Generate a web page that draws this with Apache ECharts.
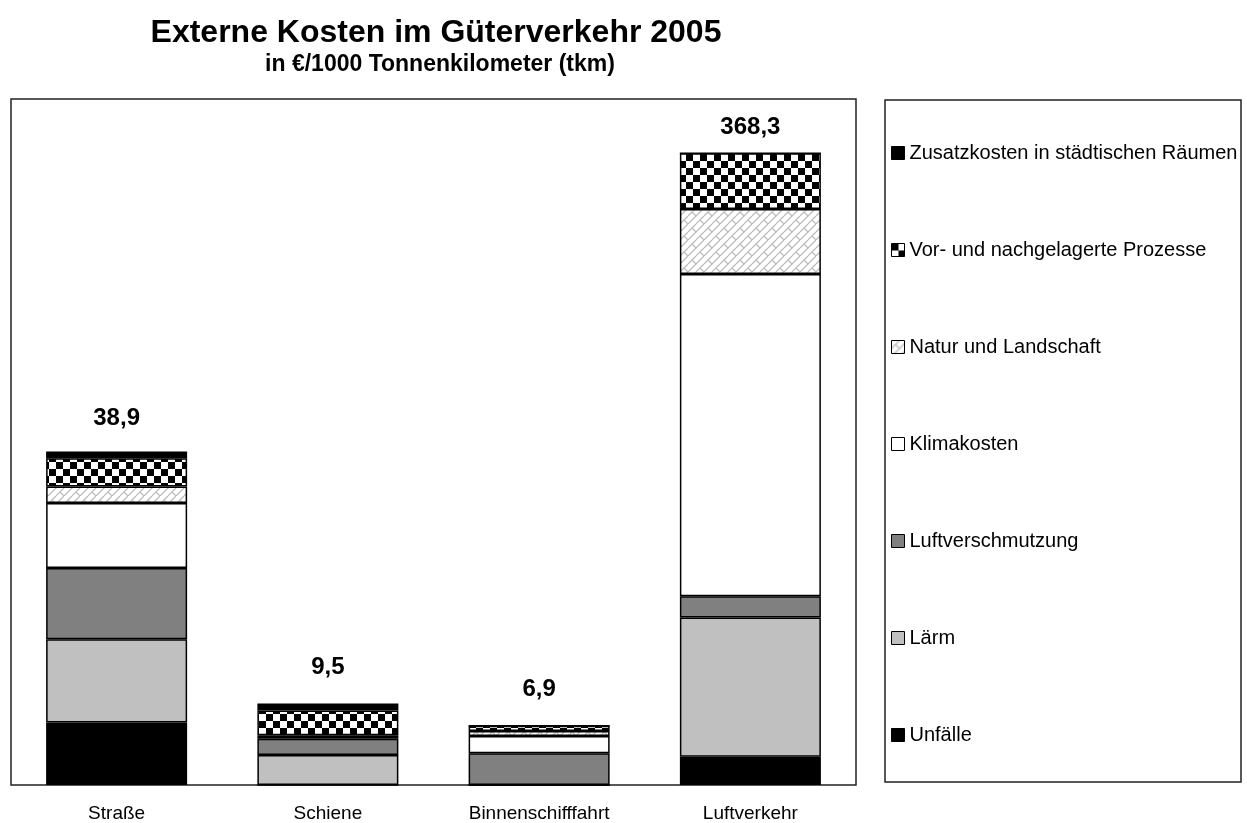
<!DOCTYPE html>
<html>
<head>
<meta charset="utf-8">
<script src="https://cdn.jsdelivr.net/npm/echarts@6/dist/echarts.min.js"></script>
<style>
html,body{margin:0;padding:0;background:#fff;}
#c{width:1247px;height:823px;}
</style>
</head>
<body>
<div id="c"></div>
<script>
// Data (€/1000 tkm)
const categories = ['Straße', 'Schiene', 'Binnenschifffahrt', 'Luftverkehr'];
const totals = [38.9, 9.5, 6.9, 368.3];
const unfaelle      = [7.3, 0.0, 0.0, 16.5];
const laerm         = [9.7, 3.5, 0.0, 81.2];
const luft          = [8.3, 1.9, 3.7, 12.4];
const klima         = [7.6, 0.2, 2.0, 187.9];
const natur         = [1.9, 0.2, 0.6, 37.9];
const vorNach       = [3.3, 2.9, 0.6, 32.4];
const zusatz        = [0.8, 0.8, 0.0, 0.0];
// Luftverkehr bar is drawn at a reduced (1:5) scale in the original
const displayScale = [1, 1, 1, 0.2];

function checker() {
  const c = document.createElement('canvas');
  c.width = 14; c.height = 14;
  const g = c.getContext('2d');
  g.fillStyle = '#fff'; g.fillRect(0, 0, 14, 14);
  g.fillStyle = '#000';
  g.fillRect(0, 0, 7, 7); g.fillRect(7, 7, 7, 7);
  return c;
}
function brick() {
  const c = document.createElement('canvas');
  c.width = 16; c.height = 16;
  const g = c.getContext('2d');
  g.fillStyle = '#fff'; g.fillRect(0, 0, 16, 16);
  g.strokeStyle = '#bdbdbd'; g.lineWidth = 1.3;
  g.beginPath();
  g.moveTo(0, 16); g.lineTo(16, 0);
  g.moveTo(0, 8); g.lineTo(8, 0);
  g.moveTo(8, 16); g.lineTo(16, 8);
  g.moveTo(4, 4); g.lineTo(8, 8);
  g.moveTo(12, 12); g.lineTo(16, 16);
  g.stroke();
  return c;
}

const font = '"Liberation Sans", Arial, sans-serif';
const seriesDefs = [
  { name: 'Unfälle', data: unfaelle, color: '#000000' },
  { name: 'Lärm', data: laerm, color: '#c0c0c0' },
  { name: 'Luftverschmutzung', data: luft, color: '#808080' },
  { name: 'Klimakosten', data: klima, color: '#ffffff' },
  { name: 'Natur und Landschaft', data: natur, color: { image: brick(), repeat: 'repeat' } },
  { name: 'Vor- und nachgelagerte Prozesse', data: vorNach, color: { image: checker(), repeat: 'repeat' } },
  { name: 'Zusatzkosten in städtischen Räumen', data: zusatz, color: '#000000' }
];

const series = seriesDefs.map(s => ({
  name: s.name,
  type: 'bar',
  stack: 'total',
  barWidth: 141,
  data: s.data.map((v, i) => v * displayScale[i]),
  itemStyle: { color: s.color, borderColor: '#000', borderWidth: 1.5 },
  silent: true
}));

const labelDist = [21, 24, 24, 14];
series.push({
  name: 'Gesamt',
  type: 'bar',
  barWidth: 141,
  barGap: '-100%',
  z: 1,
  data: totals.map((t, i) => ({
    value: t * displayScale[i],
    label: { distance: labelDist[i] }
  })),
  itemStyle: { color: 'rgba(0,0,0,0)' },
  label: {
    show: true,
    position: 'top',
    fontFamily: font,
    fontWeight: 'bold',
    fontSize: 24,
    color: '#000',
    formatter: p => totals[p.dataIndex].toFixed(1).replace('.', ',')
  },
  silent: true
});

const chart = echarts.init(document.getElementById('c'), null, { renderer: 'canvas' });
chart.setOption({
  animation: false,
  backgroundColor: '#fff',
  title: [
    { text: 'Externe Kosten im Güterverkehr 2005', left: 431, top: 12, textAlign: 'center',
      textStyle: { fontFamily: font, fontWeight: 'bold', fontSize: 32, color: '#000' } },
    { text: 'in €/1000 Tonnenkilometer (tkm)', left: 435, top: 48, textAlign: 'center',
      textStyle: { fontFamily: font, fontWeight: 'bold', fontSize: 23, color: '#000' } }
  ],
  grid: { left: 11, right: 391, top: 99, bottom: 38, show: true, borderColor: '#222', borderWidth: 1.5, backgroundColor: '#fff' },
  xAxis: {
    type: 'category',
    data: categories,
    axisLine: { show: false },
    axisTick: { show: false },
    axisLabel: { fontFamily: font, fontSize: 19, color: '#000', margin: 19 }
  },
  yAxis: { type: 'value', min: 0, max: 80, show: false, splitLine: { show: false } },
  legend: {
    orient: 'vertical',
    left: 886,
    top: 138,
    icon: 'rect',
    itemWidth: 13,
    itemHeight: 13,
    itemGap: 77,
    selectedMode: false,
    data: seriesDefs.map(s => s.name).reverse(),
    itemStyle: { borderColor: '#000', borderWidth: 1 },
    textStyle: { fontFamily: font, fontSize: 20, color: '#000', lineHeight: 20 }
  },
  graphic: [
    { type: 'rect', shape: { x: 885, y: 100, width: 356, height: 682 },
      style: { fill: 'none', stroke: '#222', lineWidth: 1.5 }, silent: true, z: -1 }
  ],
  series: series
});
</script>
</body>
</html>
